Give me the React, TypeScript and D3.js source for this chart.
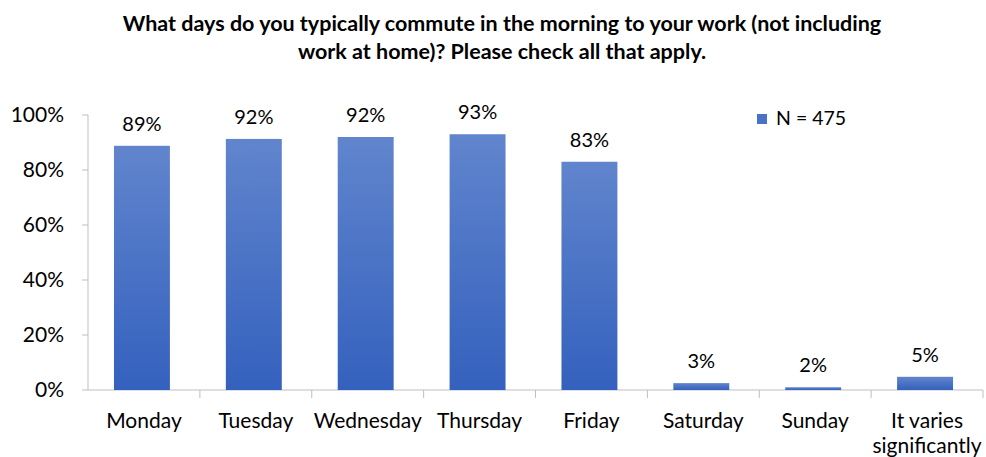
import React from "react";
import * as d3 from "d3";

const categories = ["Monday", "Tuesday", "Wednesday", "Thursday", "Friday", "Saturday", "Sunday", "It varies significantly"];
const values = [0.888, 0.913, 0.92, 0.93, 0.83, 0.025, 0.01, 0.048];
const valueLabels = ["89%", "92%", "92%", "93%", "83%", "3%", "2%", "5%"];
const yTicks = [0, 0.2, 0.4, 0.6, 0.8, 1.0];
const titleLines = [
  "What days do you typically commute in the morning to your work (not including",
  "work at home)? Please check all that apply.",
];
const legendLabel = "N = 475";

const W = 986;
const H = 457;
const FONT = "Lato, 'Open Sans', 'Noto Sans', sans-serif";

export default function App() {
  const x = d3.scaleBand<string>().domain(categories).range([88, 983]).paddingInner(0.5).paddingOuter(0.25);
  const y = d3.scaleLinear().domain([0, 1]).range([390, 115]);
  const band = d3.scaleBand<string>().domain(categories).range([88, 983]);
  const fmt = d3.format(".0%");

  return (
    <svg width={W} height={H} style={{ position: "absolute", left: 0, top: 0, background: "#fff" }} fontFamily={FONT}>
      <defs>
        <linearGradient id="barGrad" x1="0" y1="0" x2="0" y2="1" gradientUnits="objectBoundingBox">
          <stop offset="0" stopColor="#6185cd" />
          <stop offset="1" stopColor="#3461be" />
        </linearGradient>
      </defs>
      {titleLines.map((t, i) => (
        <text key={i} x={502} y={31 + i * 28} textAnchor="middle" fontSize={21.5} fontWeight="bold" fill="#000">
          {t}
        </text>
      ))}
      {/* y axis */}
      <line x1={88} x2={88} y1={y(1)} y2={y(0)} stroke="#bfbfbf" strokeWidth={1} />
      {yTicks.map((t) => (
        <g key={t}>
          <line x1={82} x2={88} y1={y(t)} y2={y(t)} stroke="#bfbfbf" />
          <text x={64} y={y(t) + 7} textAnchor="end" fontSize={21} fill="#000">
            {fmt(t)}
          </text>
        </g>
      ))}
      {/* x axis */}
      <line x1={88} x2={983} y1={y(0)} y2={y(0)} stroke="#bfbfbf" strokeWidth={1} />
      {categories.map((c) => (
        <line key={"t" + c} x1={band(c)! + band.bandwidth()} x2={band(c)! + band.bandwidth()} y1={y(0)} y2={y(0) + 8} stroke="#bfbfbf" />
      ))}
      {categories.map((c, i) => (
        <g key={c}>
          <rect x={x(c)! - 2} y={y(values[i])} width={x.bandwidth()} height={y(0) - y(values[i])} fill="url(#barGrad)" />
          <text x={x(c)! - 2 + x.bandwidth() / 2} y={y(values[i]) - 15} textAnchor="middle" fontSize={20} fill="#000">
            {valueLabels[i]}
          </text>
        </g>
      ))}
      {categories.map((c) => {
        const words = c === "It varies significantly" ? ["It varies", "significantly"] : [c];
        return (
          <text key={"l" + c} x={band(c)! + band.bandwidth() / 2} textAnchor="middle" fontSize={21} fill="#000">
            {words.map((w, j) => (
              <tspan key={j} x={band(c)! + band.bandwidth() / 2} y={428 + j * 25}>
                {w}
              </tspan>
            ))}
          </text>
        );
      })}
      {/* legend */}
      <rect x={757} y={114} width={10} height={10} fill="#4a72c6" />
      <text x={776} y={125} fontSize={19.5} fill="#000">
        {legendLabel}
      </text>
    </svg>
  );
}
